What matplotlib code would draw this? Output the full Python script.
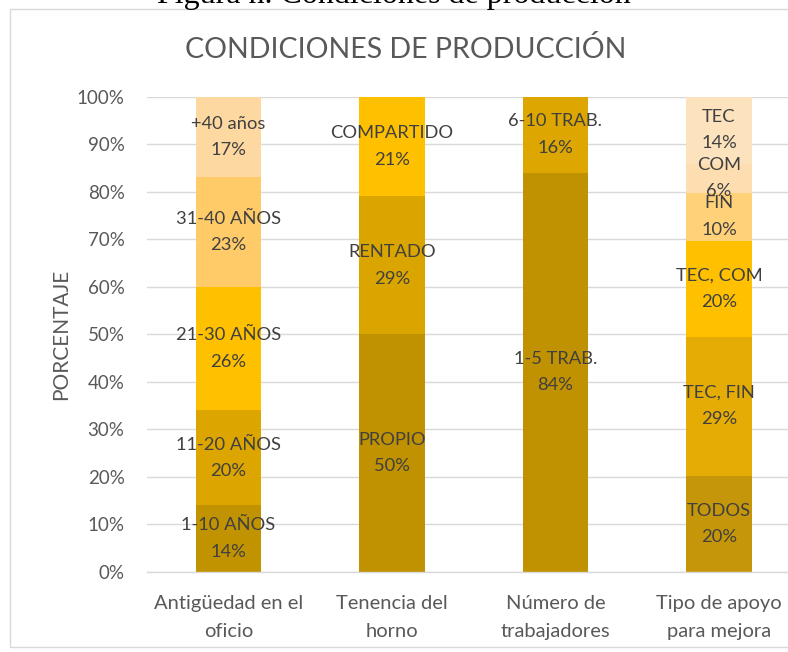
import matplotlib
matplotlib.use("Agg")
import matplotlib.pyplot as plt
from matplotlib.patches import Rectangle
import numpy as np

categories = ["Antigüedad en el\noficio", "Tenencia del\nhorno", "Número de\ntrabajadores", "Tipo de apoyo\npara mejora"]

antiguedad_labels = ["1-10 AÑOS", "11-20 AÑOS", "21-30 AÑOS", "31-40 AÑOS", "+40 años"]
antiguedad_values = [14, 20, 26, 23, 17]

tenencia_labels = ["PROPIO", "RENTADO", "COMPARTIDO"]
tenencia_values = [50, 29, 21]

trabajadores_labels = ["1-5 TRAB.", "6-10 TRAB."]
trabajadores_values = [84, 16]

apoyo_labels = ["TODOS", "TEC, FIN", "TEC, COM", "FIN", "COM", "TEC"]
apoyo_values = [20, 29, 20, 10, 6, 14]

yticks = [0, 10, 20, 30, 40, 50, 60, 70, 80, 90, 100]

# segment colours, bottom to top
antiguedad_colors = ["#C29300", "#DCA500", "#FFC000", "#FFCB68", "#FDD8A0"]
tenencia_colors = ["#C09100", "#DBA500", "#FFC000"]
trabajadores_colors = ["#C09100", "#DDA600"]
apoyo_colors = ["#C6960A", "#E4AC04", "#FFC000", "#FFD27A", "#FEDDB0", "#FDE2BE"]

FONT = "Lato"
TEXT = "#404040"

W, H = 788, 652
fig = plt.figure(figsize=(W / 100, H / 100), dpi=100)
fig.patch.set_facecolor("white")

# chart frame
fig.patches.append(Rectangle((10 / W, 5 / H), 1.2, (647 - 9) / H, transform=fig.transFigure,
                             facecolor="none", edgecolor="#D9D9D9", linewidth=1.0))

fig.text(0.5, 1 - 3 / H, "Figura n. Condiciones de producción", family="Liberation Serif",
         fontsize=23, ha="center", va="baseline", color="black")
fig.text(406 / W, 1 - 50 / H, "CONDICIONES DE PRODUCCIÓN", family=FONT, fontsize=20.5,
         ha="center", va="center", color="#595959")

ax = fig.add_axes([146.75 / W, (H - 571.7) / H, 654 / W, 475 / H])

bars = [
    (antiguedad_labels, antiguedad_values, antiguedad_colors),
    (tenencia_labels, tenencia_values, tenencia_colors),
    (trabajadores_labels, trabajadores_values, trabajadores_colors),
    (apoyo_labels, apoyo_values, apoyo_colors),
]

for i, (labels, values, colors) in enumerate(bars):
    vals = np.array(values, dtype=float)
    pct = vals / vals.sum() * 100
    bottom = 0.0
    for lab, v, p, c in zip(labels, values, pct, colors):
        ax.bar(i, p, bottom=bottom, width=0.4, color=c, edgecolor="none", zorder=2)
        ax.text(i, bottom + p / 2, f"{lab}\n{v}%", ha="center", va="center", family=FONT,
                fontsize=13.2, color=TEXT, zorder=3, linespacing=1.8)
        bottom += p

ax.set_xlim(-0.5, 3.5)
ax.set_ylim(0, 100)
ax.set_yticks(yticks)
ax.set_yticklabels([f"{t}%" for t in yticks], family=FONT, fontsize=13.5, color="#595959")
ax.set_xticks(range(len(categories)))
ax.set_xticklabels(categories, family=FONT, fontsize=14.5, color="#595959", linespacing=1.75)
ax.tick_params(axis="both", length=0)
ax.tick_params(axis="y", pad=16)
ax.tick_params(axis="x", pad=17)
ax.grid(axis="y", color="#D9D9D9", linewidth=1.0, zorder=0)
ax.set_axisbelow(True)
for side in ["top", "right", "left"]:
    ax.spines[side].set_visible(False)
ax.spines["bottom"].set_color("#D9D9D9")
ax.spines["bottom"].set_linewidth(1.0)
ax.set_ylabel("PORCENTAJE", family=FONT, fontsize=15, color="#595959", labelpad=4)

fig.savefig("out.png", dpi=100, facecolor="white")
